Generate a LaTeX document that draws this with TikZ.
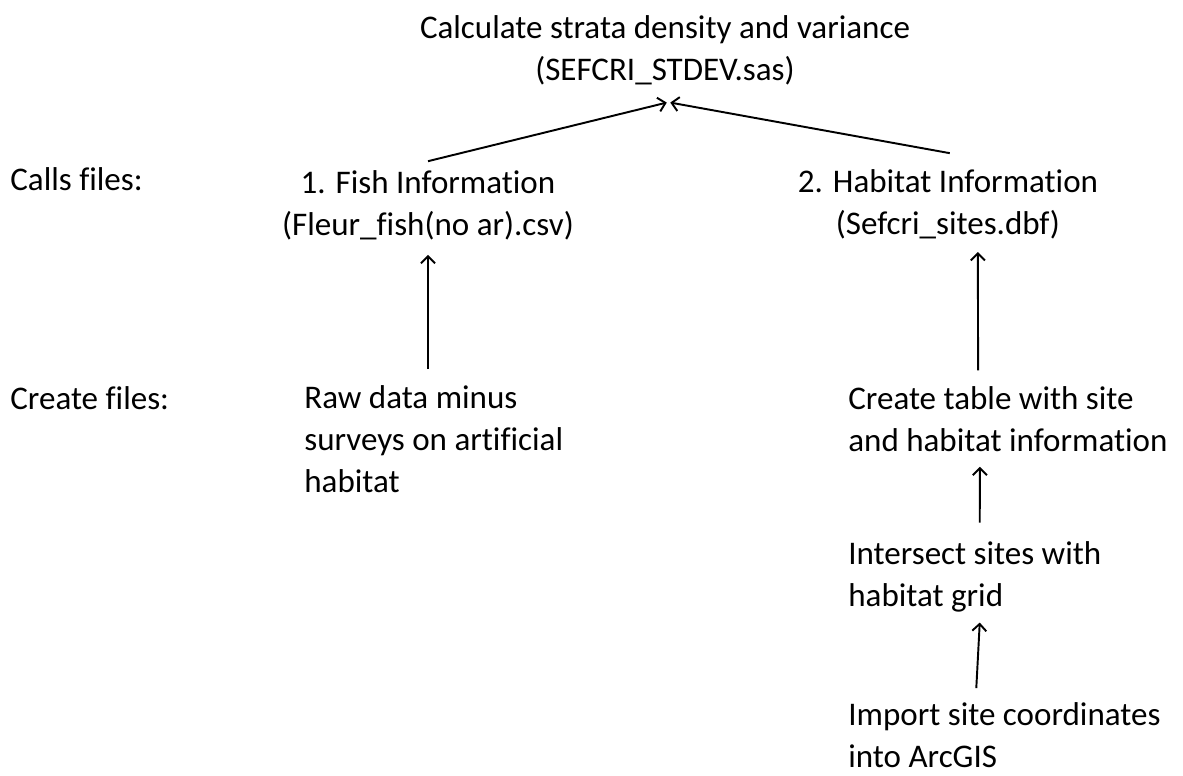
\documentclass[tikz,border=0pt]{standalone}
\usepackage{fontspec}
\setmainfont{Carlito}[Ligatures=CommonOff]
\usepackage{tikz}
\usetikzlibrary{arrows.meta}

\begin{document}
\begin{tikzpicture}[x=0.02cm,y=-0.02cm,
  every node/.style={font=\fontsize{18.8}{23.8}\selectfont, inner sep=0pt},
  rowlabel/.style={anchor=west},
  fileinfo/.style={align=center},
  stepbox/.style={align=left, anchor=west},
  upto/.style={-{Straight Barb[length=4pt,width=8pt]}, line width=1.1pt}]
\useasboundingbox (0,0) rectangle (1183,776);
\node[fileinfo] (calc) at (665,50) {Calculate strata density and variance\\(SEFCRI\_STDEV.sas)};
\node[rowlabel] (calls) at (10,179) {Calls files:};
\node[rowlabel] (create) at (10,398) {Create files:};
\node[fileinfo] (fish) at (428,205) {1. Fish Information\\(Fleur\_fish(no ar).csv)};
\node[fileinfo] (habitat) at (948,204) {2. Habitat Information\\(Sefcri\_sites.dbf)};
\node[stepbox] (raw) at (304,439) {Raw data minus\\surveys on artificial\\habitat};
\node[stepbox] (table) at (848,419) {Create table with site\\and habitat information};
\node[stepbox] (intersect) at (848,577) {Intersect sites with\\habitat grid};
\node[stepbox] (import) at (848,735) {Import site coordinates\\into ArcGIS};
% calls
\draw[upto] ([yshift=5pt]fish.north) -- ([xshift=1pt,yshift=-10pt]calc.south);
\draw[upto] ([xshift=1pt,yshift=9pt]habitat.north) -- ([xshift=3pt,yshift=-10pt]calc.south);
% creates
\draw[upto] (raw.north -| fish.south) ++(0,-16) -- ([yshift=-8.5pt]fish.south);
\draw[upto] ([xshift=-17pt,yshift=9pt]table.north) -- ([xshift=17pt,yshift=-7.4pt]habitat.south);
\draw[upto] ([xshift=2.8pt,yshift=10.7pt]intersect.north) -- ([xshift=-16pt,yshift=-8.5pt]table.south);
\draw[upto] ([xshift=-16pt,yshift=8pt]import.north) -- ([xshift=2.8pt,yshift=-5.7pt]intersect.south);
\end{tikzpicture}
\end{document}
